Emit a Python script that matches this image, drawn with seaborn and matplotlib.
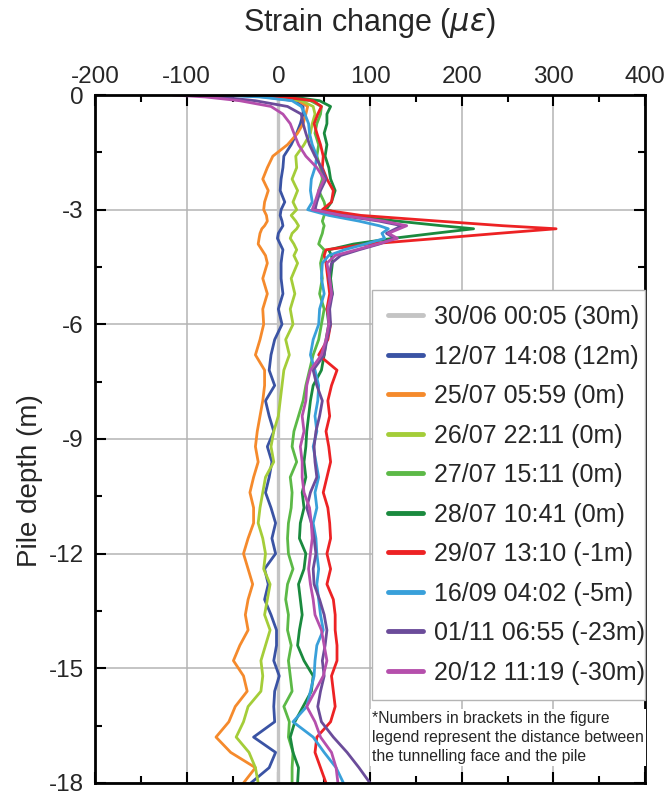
import pandas as pd
import matplotlib
matplotlib.use('Agg')
import matplotlib.pyplot as plt
import seaborn as sns

# depth below pile head (m)
depth = [0, -0.05, -0.15, -0.3, -0.5, -0.75, -1.0, -1.3, -1.6, -1.9, -2.2, -2.5, -2.8,
         -3.0, -3.15, -3.3, -3.42, -3.5, -3.62, -3.75, -3.9, -4.05, -4.2, -4.4, -4.8,
         -5.2, -5.6, -6.0, -6.4, -6.8, -7.2, -7.6, -8.0, -8.4, -8.8, -9.2, -9.6, -10.0,
         -10.4, -10.8, -11.2, -11.6, -12.0, -12.4, -12.8, -13.2, -13.6, -14.0, -14.4,
         -14.8, -15.2, -15.6, -16.0, -16.4, -16.8, -17.2, -17.6, -18.0]

labels = ['30/06 00:05 (30m)', '12/07 14:08 (12m)', '25/07 05:59 (0m)', '26/07 22:11 (0m)',
          '27/07 15:11 (0m)', '28/07 10:41 (0m)', '29/07 13:10 (-1m)', '16/09 04:02 (-5m)',
          '01/11 06:55 (-23m)', '20/12 11:19 (-30m)']
colors = ['#c4c4c4', '#3a53a4', '#f58a2c', '#a4cd39', '#5cb947', '#1a8a3e',
          '#ed2224', '#39a0da', '#6b4c9a', '#b54fac']

# strain change (microstrain) for each reading
s_3006 = [0] * 58
s_1207 = [-55, -15, 18, 27, 27, 24, 20, 14, 6, 5, 3, 2, 7, 3, 2, 4, 5, 3, 0, -1, 2, 5, 4, 3,
          3, 5, 0, 4, -4, -8, -10, -4, -14, -10, -5, -12, -7, -10, -14, -8, -3, -7, -3, -15,
          -11, -15, -8, -2, -2, -5, 1, -4, -5, -4, -27, -3, -10, -30]
s_2507 = [-45, -5, 22, 32, 30, 27, 21, 10, -6, -12, -17, -11, -15, -16, -13, -12, -15, -18,
          -20, -21, -22, -18, -14, -12, -17, -12, -17, -16, -20, -25, -15, -15, -17, -20, -23,
          -25, -22, -27, -31, -27, -27, -33, -38, -33, -28, -33, -36, -33, -42, -49, -38, -34,
          -47, -54, -68, -52, -25, -38]
s_2607 = [-50, -5, 25, 38, 40, 37, 35, 28, 19, 20, 15, 21, 16, 20, 14, 19, 22, 20, 15, 13, 17,
          20, 17, 21, 14, 18, 13, 16, 8, 12, 6, 4, 2, 0, -5, -8, -5, -14, -17, -20, -22, -17,
          -14, -16, -9, -12, -15, -9, -14, -19, -17, -19, -33, -38, -46, -32, -25, -22]
s_2707 = [-30, 5, 35, 47, 46, 42, 40, 44, 42, 46, 48, 44, 50, 52, 50, 48, 50, 49, 48, 46, 44,
          50, 48, 46, 48, 45, 50, 47, 44, 38, 34, 30, 27, 22, 17, 15, 20, 13, 15, 14, 11, 10,
          11, 16, 10, 8, 11, 10, 14, 11, 13, 15, 6, 12, 11, 16, 15, 15]
s_2807 = [-25, 15, 45, 57, 53, 53, 50, 53, 51, 55, 57, 62, 58, 52, 75, 130, 178, 213, 170,
          125, 82, 55, 58, 59, 57, 59, 53, 55, 52, 50, 47, 38, 35, 33, 31, 30, 28, 30, 26, 28,
          24, 23, 30, 28, 22, 24, 26, 23, 21, 28, 38, 36, 27, 18, 13, 16, 22, 21]
s_2907 = [-35, 5, 38, 47, 43, 39, 42, 46, 49, 48, 53, 60, 58, 48, 90, 175, 245, 303, 240, 175,
          98, 52, 50, 52, 54, 56, 53, 57, 54, 44, 64, 58, 54, 56, 52, 55, 57, 53, 49, 54, 56,
          57, 53, 57, 53, 60, 62, 62, 64, 64, 58, 60, 62, 57, 42, 40, 46, 52]
s_1609 = [-65, -20, 15, 25, 29, 33, 34, 37, 42, 40, 36, 35, 37, 32, 55, 88, 110, 120, 113,
          116, 95, 72, 55, 48, 47, 50, 45, 44, 38, 35, 40, 44, 43, 40, 42, 38, 41, 44, 40, 42,
          38, 41, 42, 44, 42, 44, 46, 49, 42, 40, 39, 35, 31, 16, 38, 50, 63, 71]
s_0111 = [-100, -65, -25, 10, 25, 27, 30, 34, 40, 47, 52, 46, 42, 40, 68, 110, 135, 128, 118,
          127, 110, 88, 68, 58, 55, 59, 56, 57, 53, 50, 38, 42, 48, 45, 41, 39, 40, 42, 35, 31,
          36, 39, 41, 38, 39, 45, 50, 53, 51, 48, 50, 46, 43, 47, 60, 75, 88, 100]
s_2012 = [-115, -80, -42, -8, 5, 13, 17, 22, 30, 42, 50, 44, 40, 37, 70, 115, 140, 132, 120,
          130, 108, 85, 62, 53, 56, 58, 54, 55, 52, 47, 35, 31, 30, 26, 28, 24, 26, 26, 28, 34,
          36, 37, 35, 33, 35, 38, 40, 47, 50, 53, 49, 40, 31, 40, 46, 58, 63, 65]

series = [s_3006, s_1207, s_2507, s_2607, s_2707, s_2807, s_2907, s_1609, s_0111, s_2012]

rows = []
for lab, vals in zip(labels, series):
    for d, v in zip(depth, vals):
        rows.append({'date': lab, 'depth': d, 'strain': v})
df = pd.DataFrame(rows)

sns.set_style('white')
plt.rcParams['font.family'] = ['Liberation Sans', 'DejaVu Sans']
plt.rcParams['axes.unicode_minus'] = False
plt.rcParams['mathtext.fontset'] = 'dejavusans'

fig = plt.figure(figsize=(6.7, 7.97), dpi=100)
ax = fig.add_axes([0.1418, 0.0176, 0.8209, 0.8632])

widths = [2.4] + [2] * 9
sns.lineplot(data=df, x='strain', y='depth', hue='date', hue_order=labels,
             palette=dict(zip(labels, colors)), sort=False, estimator=None,
             orient='y', legend=False, ax=ax)
for line, w in zip(ax.get_lines(), widths):
    line.set_linewidth(w)
    line.set_solid_joinstyle('round')

ax.set_xlim(-200, 400)
ax.set_ylim(-18, 0)
ax.set_xticks(range(-200, 401, 100))
ax.set_xticks(range(-200, 401, 50), minor=True)
ax.set_yticks(range(-18, 1, 3))
ax.set_yticks([-18 + 1.5 * i for i in range(13)], minor=True)
ax.xaxis.tick_top()
ax.xaxis.set_label_position('top')
ax.tick_params(which='both', direction='in', top=True, bottom=True, left=True, right=True,
               color='black', width=1.5)
ax.tick_params(which='major', length=8, labelsize=17.5)
ax.tick_params(axis='x', which='major', pad=5)
ax.tick_params(axis='y', which='major', pad=8)
ax.tick_params(which='minor', length=5)
ax.grid(True, which='major', color='#b4b4b4', linewidth=1.1)
ax.set_axisbelow(True)
for sp in ax.spines.values():
    sp.set_color('black')
    sp.set_linewidth(2)

ax.set_xlabel(r'Strain change ($\mu\varepsilon$)', fontsize=22, labelpad=25)
ax.set_ylabel('Pile depth (m)', fontsize=20)
ax.yaxis.set_label_coords(-0.094, 0.44)

leg = ax.legend(ax.get_lines(), labels, loc='upper left',
                bbox_to_anchor=(0.504, 0.0, 0.496, 0.717), mode='expand', borderaxespad=0,
                fontsize=18, labelspacing=0.62, handlelength=1.4, handletextpad=0.45,
                borderpad=0.62, frameon=True, fancybox=False, framealpha=1,
                edgecolor='#b4b4b4')
leg.get_frame().set_linewidth(1)
for h in leg.legend_handles:
    h.set_linewidth(3.5)

ax.text(0.504, 0.104,
        '*Numbers in brackets in the figure\nlegend represent the distance between\n'
        'the tunnelling face and the pile',
        transform=ax.transAxes, ha='left', va='top', fontsize=11.3, linespacing=1.3,
        bbox=dict(facecolor='white', edgecolor='none', pad=1.5), zorder=6)

plt.savefig('out.png', dpi=100)
plt.close()
